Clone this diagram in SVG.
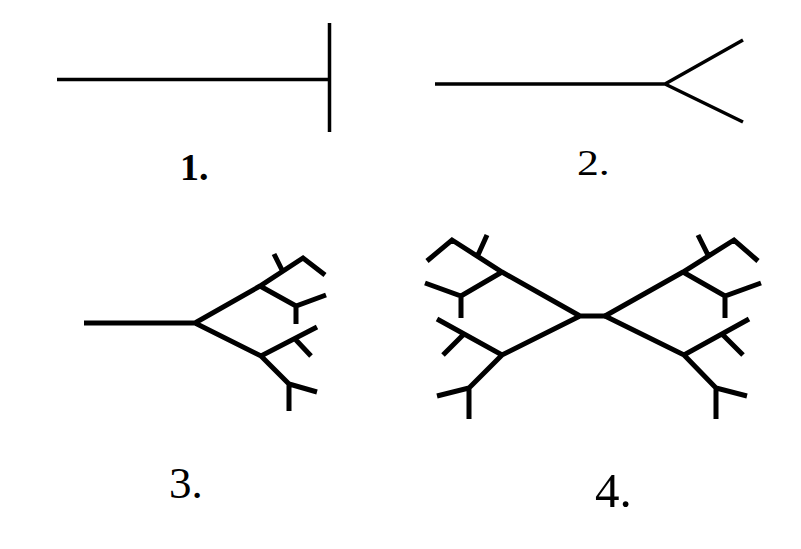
<svg xmlns="http://www.w3.org/2000/svg" width="801" height="549" viewBox="0 0 801 549">
<style>
.ln{fill:none;stroke:#000;stroke-linecap:butt;stroke-linejoin:miter}
.thin{stroke-width:3.5}
.thick{stroke-width:5}
.lbl{font-family:"Liberation Serif","DejaVu Serif",serif;fill:#000}
.b{font-weight:bold}
</style>
<rect width="801" height="549" fill="#fff"/>
<g id="fig1">
<path class="ln thin" d="M57 79.5H329M329.5 23V132"/>
<text class="lbl b" x="180" y="180" font-size="38">1.</text>
</g>
<g id="fig2">
<path class="ln thin" d="M435 84H665L743 40M665 84L743 122"/>
<text class="lbl" x="577" y="175" font-size="35" transform="translate(577 175) scale(1.25 1) translate(-577 -175)">2.</text>
</g>
<g id="fig3">
<path class="ln thick" d="M84 323H195L260 286L303 258L325 275M282 270L274 254M260 286L296 306L326 295M296 306V324M195 323L261 356L317 327M296 340L311 356M261 356L289 384L317 392M289 384V411"/>
<text class="lbl" x="169" y="498" font-size="45">3.</text>
</g>
<g id="fig4">
<path class="ln thick" d="M580 316H605M580 316L502 272L452 240L427 261M478 255L487 235M502 272L461 296L425 283M461 296V318M580 316L502 355L437 319M463 335L443 355M502 355L469 388L437 396M469 388V419"/>
<path class="ln thick" d="M605 316L683 272L734 240L758 261M708 255L698 235M683 272L725 296L761 283M725 296V318M605 316L684 355L749 319M723 335L743 355M684 355L716 388L747 396M716 388V419"/>
<text class="lbl" x="595" y="507" font-size="49">4.</text>
</g>
</svg>
